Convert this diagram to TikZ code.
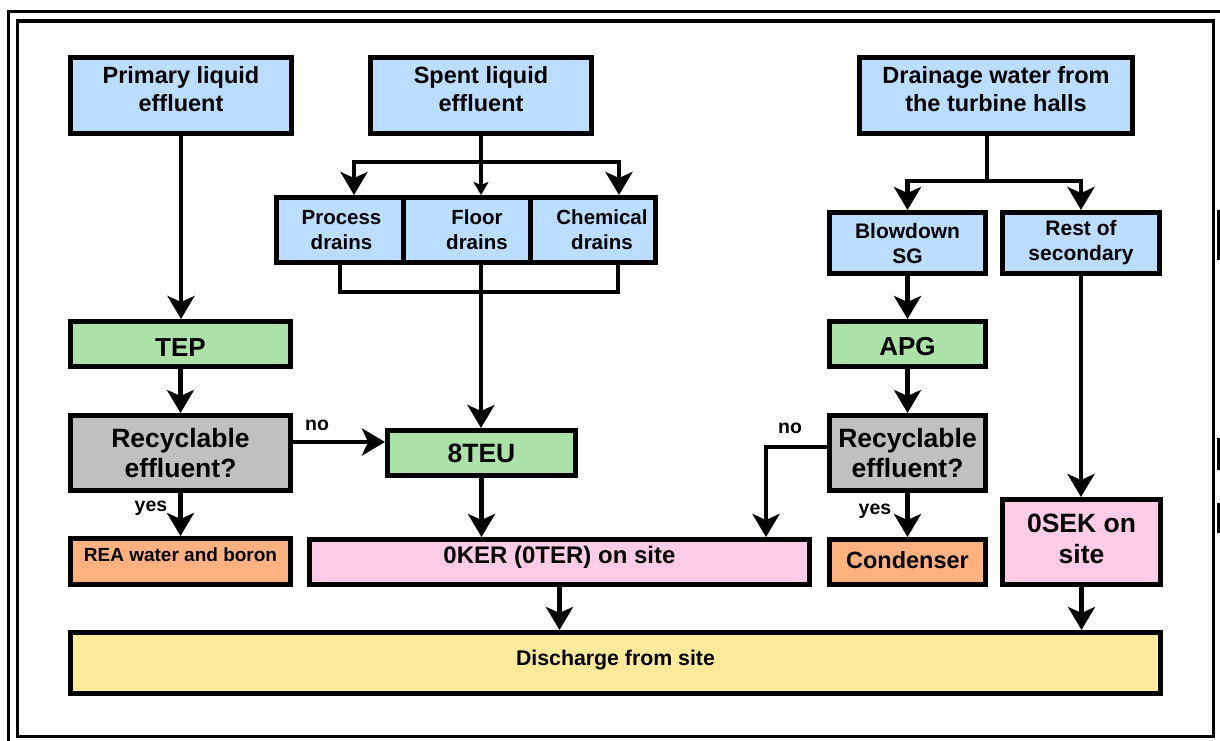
\documentclass[tikz,border=0pt]{standalone}
\usepackage{fontspec}
\setmainfont{Liberation Sans}
\usetikzlibrary{arrows.meta,calc}
\definecolor{cblue}{RGB}{187,221,255}
\definecolor{cgreen}{RGB}{172,225,168}
\definecolor{cgray}{RGB}{192,192,192}
\definecolor{corange}{RGB}{255,178,128}
\definecolor{cpink}{RGB}{255,204,232}
\definecolor{cyellow}{RGB}{254,234,154}
\tikzset{
 box/.style={draw=black, line width=5pt, inner sep=0pt, align=center},
 conn/.style={line width=4.5pt},
 arr/.style={conn, -{Stealth[length=23pt,width=27pt,inset=6pt]}},
 arrs/.style={conn, -{Stealth[length=13pt,width=15pt,inset=3pt]}},
 lbl/.style={font=\bfseries\fontsize{19.5}{22}\selectfont, inner sep=0pt},
 frame/.style={line width=3.5pt},
}
\begin{document}
\begin{tikzpicture}[x=1pt,y=-1pt]
\useasboundingbox (0,0) rectangle (1220,740);
\clip (0,0) rectangle (1220,740);
\fill[white] (0,0) rectangle (1220,740);
% frames
\draw[frame] (8.5,11.5) rectangle (1240,760);
\draw[frame] (17.5,21) rectangle (1213.5,736.5);
\fill (1216.5,210) rectangle (1221,260);
\fill (1216.5,438) rectangle (1221,470);
\fill (1216.5,503) rectangle (1221,533);
% top row
\node[box, fill=cblue, minimum width=221pt, minimum height=76pt, text height=44.8pt, text depth=12pt, font=\bfseries\fontsize{23.5}{28}\selectfont] (prim) at (181,95.5) {Primary liquid\\effluent};
\node[box, fill=cblue, minimum width=221pt, minimum height=76pt, text height=44.8pt, text depth=12pt, font=\bfseries\fontsize{23.5}{28}\selectfont] (spent) at (481,95.5) {Spent liquid\\effluent};
\node[box, fill=cblue, minimum width=273pt, minimum height=76pt, text height=44.8pt, text depth=12pt, font=\bfseries\fontsize{23.5}{28}\selectfont] (drain) at (996,95.5) {Drainage water from\\the turbine halls};
% drains
\node[box, fill=cblue, minimum width=127pt, minimum height=65pt, font=\bfseries\fontsize{20.5}{25}\selectfont] (process) at (340,230) {\hspace*{3pt}Process\\\hspace*{3pt}drains};
\node[box, fill=cblue, minimum width=127pt, minimum height=65pt, font=\bfseries\fontsize{20.5}{25}\selectfont] (floor) at (467,230) {\hspace*{20pt}Floor\\\hspace*{20pt}drains};
\node[box, fill=cblue, minimum width=125pt, minimum height=65pt, font=\bfseries\fontsize{20.5}{25}\selectfont] (chem) at (593,230) {\hspace*{18pt}Chemical\\\hspace*{18pt}drains};
\node[box, fill=cblue, minimum width=156pt, minimum height=61pt, font=\bfseries\fontsize{21}{25}\selectfont] (blow) at (907.5,243) {Blowdown\\SG};
\node[box, fill=cblue, minimum width=157pt, minimum height=61pt, font=\bfseries\fontsize{21}{25}\selectfont] (rest) at (1081,243) {Rest of\\secondary};
% treatment
\node[box, fill=cgreen, minimum width=220pt, minimum height=45pt, text height=24.6pt, text depth=0pt, font=\bfseries\fontsize{26}{30}\selectfont] (tep) at (180.5,344) {TEP};
\node[box, fill=cgreen, minimum width=156pt, minimum height=45pt, text height=23.6pt, text depth=0pt, font=\bfseries\fontsize{26}{30}\selectfont] (apg) at (907.5,344) {APG};
\node[box, fill=cgreen, minimum width=188pt, minimum height=45pt, font=\bfseries\fontsize{26.5}{30}\selectfont] (teu) at (481.5,453) {8TEU};
\node[box, fill=cgray, minimum width=220pt, minimum height=75pt, font=\bfseries\fontsize{26.5}{30}\selectfont] (rec1) at (180.5,453) {Recyclable\\effluent?};
\node[box, fill=cgray, minimum width=156pt, minimum height=75pt, font=\bfseries\fontsize{26.5}{30}\selectfont] (rec2) at (907.5,453) {Recyclable\\effluent?};
% outputs
\node[box, fill=corange, minimum width=220pt, minimum height=46pt, text height=13.6pt, text depth=13pt, font=\bfseries\fontsize{19}{22}\selectfont] (rea) at (180.5,561.5) {REA water and boron};
\node[box, fill=cpink, minimum width=500pt, minimum height=45pt, text height=17.5pt, text depth=14.3pt, font=\bfseries\fontsize{24}{28}\selectfont] (ker) at (559.5,562) {0KER (0TER) on site};
\node[box, fill=corange, minimum width=156pt, minimum height=45pt, text height=17pt, text depth=4pt, font=\bfseries\fontsize{23.5}{28}\selectfont] (cond) at (907.5,562) {Condenser};
\node[box, fill=cpink, minimum width=158pt, minimum height=85pt, text height=50pt, text depth=8pt, font=\bfseries\fontsize{26.5}{31}\selectfont] (sek) at (1081.5,542) {0SEK on\\site};
\node[box, fill=cyellow, minimum width=1090pt, minimum height=61pt, text height=15.5pt, text depth=10.5pt, font=\bfseries\fontsize{21.3}{25}\selectfont] (dis) at (615.5,663) {Discharge from site};
% labels
\node[lbl] (no1) at (317,425) {no};
\node[lbl] (no2) at (790,428) {no};
\node[lbl] (yes1) at (151,508) {yes};
\node[lbl] (yes2) at (875,511) {yes};
% connectors
\coordinate (sj) at (481,162);
\coordinate (pl) at (354,162);
\coordinate (pr) at (619,162);
\coordinate (cl) at (340,292);
\coordinate (cr) at (618,292);
\draw[arrs] (spent.south -| sj) -- (sj |- floor.north);
\draw[arr] (sj) -| (pl |- process.north);
\draw[arr] (sj) -| (pr |- chem.north);
\draw[conn] (process.south -| cl) -- (cl) -- (cr) -- (chem.south -| cr);
\draw[arr] (floor.south -| sj) -- (teu.north -| sj);
\coordinate (dj) at (987,181);
\draw[conn] (drain.south -| dj) -- (dj);
\draw[arr] (dj) -| (blow.north);
\draw[arr] (dj) -| (rest.north);
\draw[arr] (prim.south) -- (prim.south |- tep.north);
\draw[arr] (tep.south) -- (rec1.north);
\draw[arr] (rec1.south) -- (rea.north);
\coordinate (n1) at (340,442);
\draw[arr] (rec1.east |- n1) -- (teu.west |- n1);
\draw[arr] (blow.south) -- (apg.north);
\draw[arr] (apg.south) -- (rec2.north);
\draw[arr] (rec2.south) -- (cond.north);
\coordinate (n2) at (766,447);
\draw[arr] (rec2.west |- n2) -| (ker.north -| n2);
\draw[arr] (teu.south) -- (teu.south |- ker.north);
\draw[arr] (rest.south) -- (rest.south |- sek.north);
\draw[arr] (ker.south) -- (ker.south |- dis.north);
\draw[arr] (sek.south) -- (sek.south |- dis.north);
\end{tikzpicture}
\end{document}
